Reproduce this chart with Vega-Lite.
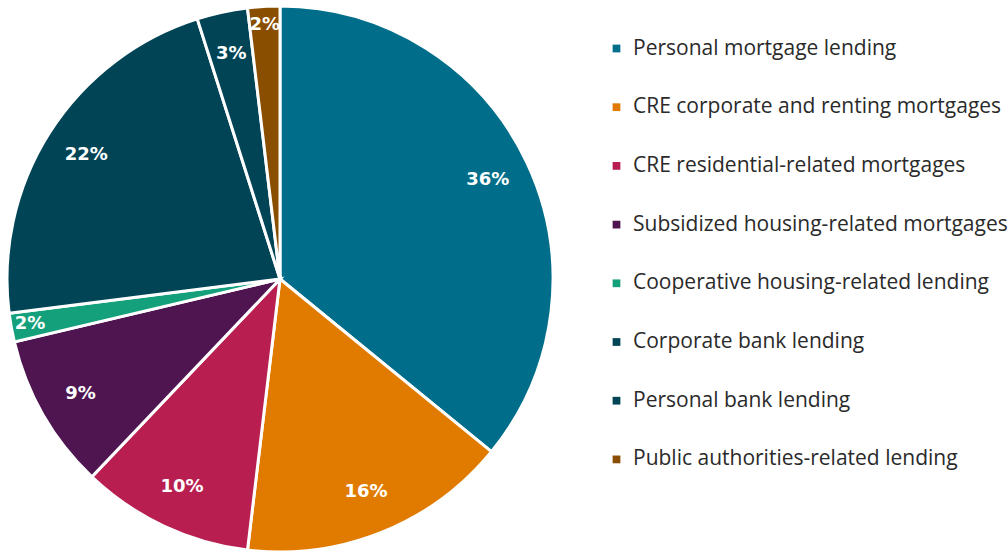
{
  "$schema": "https://vega.github.io/schema/vega-lite/v6.json",
  "width": 560,
  "height": 554,
  "padding": 0,
  "autosize": {"type": "pad"},
  "background": "white",
  "data": {"values": [
    {"category": "Personal mortgage lending", "value": 35.9, "label": "36%", "order": 1},
    {"category": "CRE corporate and renting mortgages", "value": 16.0, "label": "16%", "order": 2},
    {"category": "CRE residential-related mortgages", "value": 10.2, "label": "10%", "order": 3},
    {"category": "Subsidized housing-related mortgages", "value": 9.2, "label": "9%", "order": 4},
    {"category": "Cooperative housing-related lending", "value": 1.7, "label": "2%", "order": 5},
    {"category": "Corporate bank lending", "value": 22.1, "label": "22%", "order": 6},
    {"category": "Personal bank lending", "value": 3.0, "label": "3%", "order": 7},
    {"category": "Public authorities-related lending", "value": 1.9, "label": "2%", "order": 8}
  ]},
  "encoding": {
    "theta": {"field": "value", "type": "quantitative", "stack": true},
    "order": {"field": "order", "type": "quantitative"},
    "color": {
      "field": "category",
      "type": "nominal",
      "scale": {
        "domain": ["Personal mortgage lending", "CRE corporate and renting mortgages", "CRE residential-related mortgages", "Subsidized housing-related mortgages", "Cooperative housing-related lending", "Corporate bank lending", "Personal bank lending", "Public authorities-related lending"],
        "range": ["#006E8A", "#E07B00", "#B81E50", "#4E1550", "#15A07C", "#004456", "#004456", "#8A4E00"]
      },
      "legend": {
        "title": null,
        "orient": "none",
        "legendX": 606,
        "legendY": 36,
        "symbolType": "square",
        "symbolSize": 60,
        "symbolStrokeWidth": 0,
        "labelFontSize": 21,
        "labelFont": "Open Sans",
        "labelColor": "#2a2a2a",
        "labelLimit": 420,
        "labelOffset": 6,
        "rowPadding": 36.7
      }
    }
  },
  "layer": [
    {"mark": {"type": "arc", "outerRadius": 273, "stroke": "white", "strokeWidth": 3}},
    {
      "mark": {"type": "text", "radius": 230, "fill": "white", "fontSize": 18, "fontWeight": "bold", "font": "DejaVu Sans"},
      "encoding": {"text": {"condition": {"test": "datum.value >= 2.5", "field": "label"}, "value": ""}, "color": {"value": "white"}}
    },
    {
      "mark": {"type": "text", "radius": 254, "fill": "white", "fontSize": 18, "fontWeight": "bold", "font": "DejaVu Sans"},
      "encoding": {"text": {"condition": {"test": "datum.value < 2.5", "field": "label"}, "value": ""}, "color": {"value": "white"}}
    }
  ]
}
